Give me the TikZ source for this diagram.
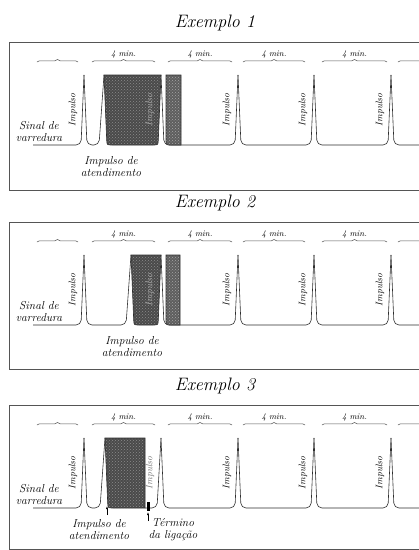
\documentclass[tikz,border=0pt]{standalone}
\usepackage{tikz}
\usetikzlibrary{arrows.meta,calc,positioning,patterns,decorations.pathreplacing}
\definecolor{inkgray}{HTML}{2E2E2E}
\definecolor{framegray}{HTML}{555555}
\definecolor{shadedark}{HTML}{4A4A4A}
\definecolor{shadelight}{HTML}{5E5E5E}

\begin{document}
\begin{tikzpicture}[x=1pt,y=-1pt]
  \tikzset{title/.style={font=\fontsize{18}{20}\selectfont\itshape, inner sep=0pt}, lab/.style={font=\fontsize{11.5}{12}\selectfont\itshape, align=center, inner sep=0pt}, implab/.style={font=\fontsize{9.5}{11}\selectfont\itshape, rotate=90, inner sep=0pt}, minlab/.style={font=\fontsize{8.5}{10}\selectfont\itshape, inner sep=0pt}, frame/.style={draw=framegray, line width=0.8pt}, wave/.style={draw=inkgray, line width=0.6pt, rounded corners=5pt}, timebrace/.style={draw=framegray, line width=0.5pt, decorate, decoration={brace, amplitude=2.5pt}}, callfill/.style={preaction={fill=shadedark}, pattern=crosshatch dots, pattern color=black!45, draw=inkgray, line width=0.6pt}, callfill2/.style={preaction={fill=shadelight}, pattern=crosshatch dots, pattern color=black!35, draw=inkgray, line width=0.6pt}}
  \useasboundingbox (0,0) rectangle (419,550);
  \foreach \oy/\n/\bot in {42/1/190,222/2/369,405/3/549} {
    \node[title] (title\n) at (215,\oy-19) {Exemplo \n};
    \draw[frame] (450,\oy) -- (9,\oy) -- (9,\bot) -- (450,\bot);
    \foreach \a/\b [count=\i] in {37/78,92/155,168/232,243/305,322/387,398/450}
      \draw[timebrace] (\a,\oy+20) -- (\b,\oy+20) coordinate[midway] (br\n-\i);
    \foreach \i in {2,...,5}
      \node[minlab, above=4pt of br\n-\i] (min\n-\i) {4 min.};
    \draw[wave] (33,\oy+103) -- (81,\oy+103) -- (84,\oy+33);
    \foreach \a/\b in {161/238,238/314,314/391,391/450}
      \draw[wave] (\a,\oy+33) -- (\a+3,\oy+103) -- (\b-3,\oy+103) -- (\b,\oy+33);
    \foreach \s in {84,238,314,391}
      \node[implab] (imp\n-\s) at (\s-11,\oy+68) {Impulso};
    \node[lab] (sinal\n) at (39,\oy+90) {Sinal de\\varredura};
  }
  % exemplo 1
  \draw[wave] (84,75) -- (87,145) -- (99,145) -- (104,75);
  \path[callfill] (104,75) -- (106.7,140) .. controls (107,145) .. (112,145) -- (153,145) .. controls (158,145) .. (158.3,140) -- (161,75) -- cycle;
  \path[callfill2] (166,75) -- (166,140) .. controls (166,145) .. (171,145) -- (181,145) -- (181,75) -- cycle;
  \node[implab, text=white!70!black] (imp1-161) at (150,110) {Impulso};
  \node[lab] (atend1) at (111,167) {Impulso de\\atendimento};
  % exemplo 2
  \draw[wave] (84,255) -- (87,325) -- (126,325) -- (131,255);
  \path[callfill] (131,255) -- (133.7,320) .. controls (134,325) .. (139,325) -- (153,325) .. controls (158,325) .. (158.3,320) -- (161,255) -- cycle;
  \path[callfill2] (166,255) -- (166,320) .. controls (166,325) .. (171,325) -- (180,325) -- (180,255) -- cycle;
  \node[implab, text=white!70!black] (imp2-161) at (150,290) {Impulso};
  \node[lab] (atend2) at (132,347) {Impulso de\\atendimento};
  % exemplo 3
  \draw[wave] (84,438) -- (87,508) -- (100,508) -- (105,438);
  \path[callfill] (105,438) -- (107.7,503) .. controls (108,508) .. (113,508) -- (145,508) -- (145,438) -- cycle;
  \draw[wave] (145,508) -- (157,508) -- (161,438);
  \node[implab, text=black!55] (imp3-161) at (150,473) {Impulso};
  \fill[black] (147,502) rectangle (149.5,511);
  \coordinate (start3) at (107,506);
  \coordinate (end3) at (148,512);
  \node[lab] (atend3) at (99,530) {Impulso de\\atendimento};
  \node[lab] (fim3) at (173,530) {Término\\da ligação};
  \draw[-{Latex[length=3pt,width=2pt]}, line width=0.5pt] (107,515) -- (start3);
  \draw[-{Latex[length=3pt,width=2pt]}, line width=0.5pt] (148,521) -- (end3);
\end{tikzpicture}
\end{document}
